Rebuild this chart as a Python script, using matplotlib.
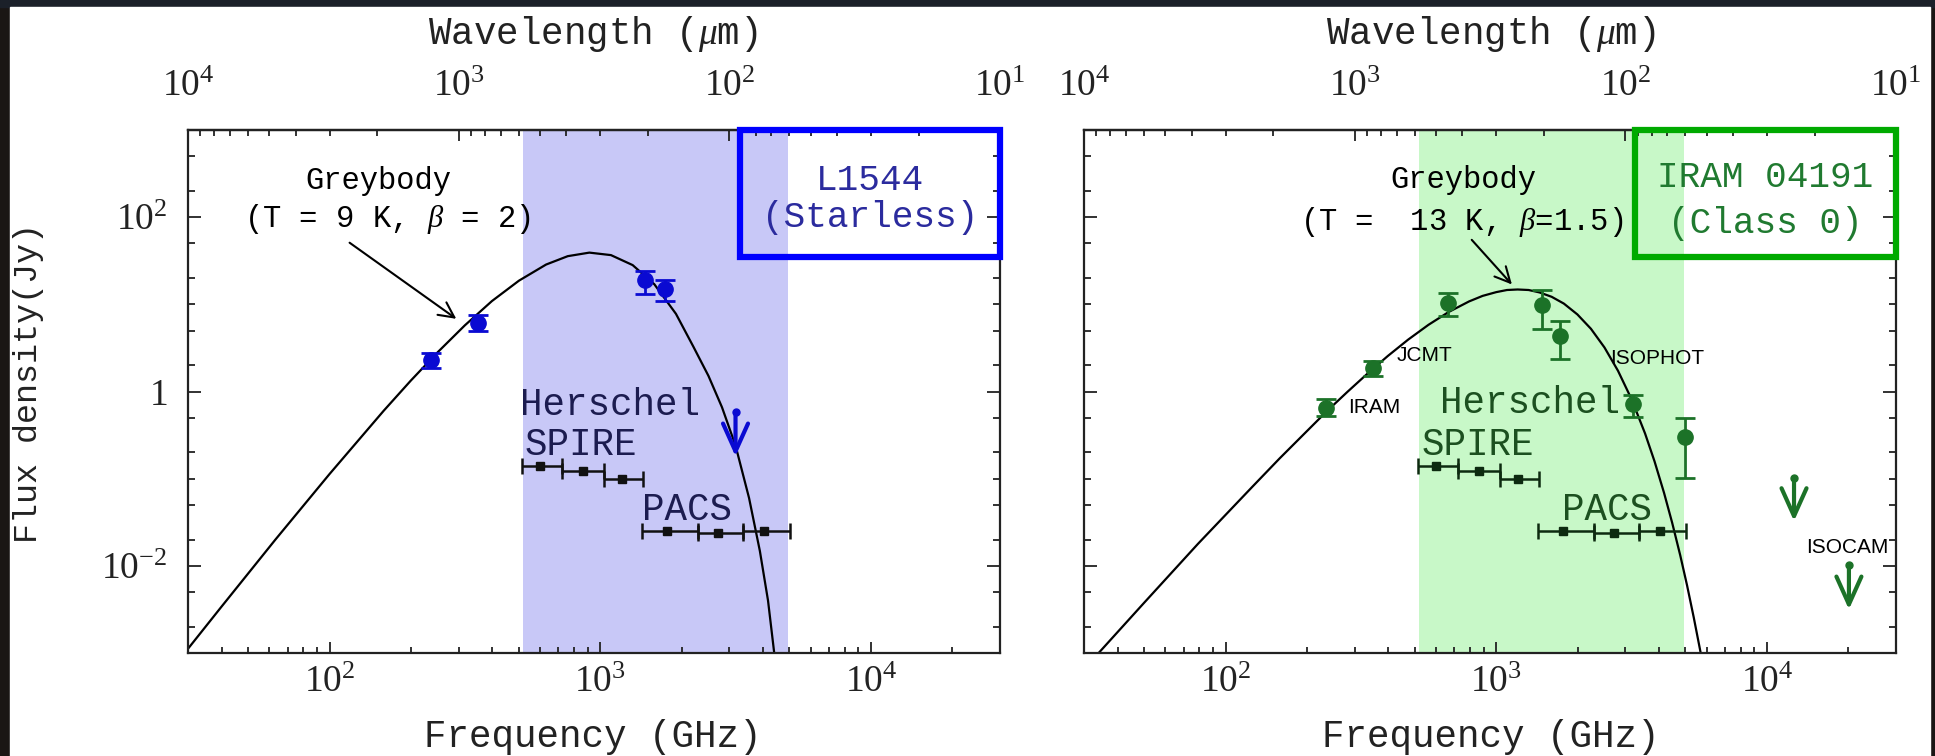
import numpy as np
import matplotlib
matplotlib.use('Agg')
import matplotlib.pyplot as plt
from matplotlib.patches import Rectangle
from matplotlib.ticker import FixedLocator, LogLocator, FuncFormatter, NullFormatter

plt.rcParams['font.family'] = 'Liberation Serif'
plt.rcParams['mathtext.fontset'] = 'custom'
plt.rcParams['mathtext.rm'] = 'Liberation Serif'
plt.rcParams['mathtext.it'] = 'Liberation Serif:italic'
plt.rcParams['mathtext.bf'] = 'Liberation Serif:bold'

# ---- data (frequency in GHz, flux in Jy) ----
# greybody curves
grey_l_nu = [29.8, 39.8, 63.1, 100, 158.5, 199.5, 251.2, 316.2, 398.1, 501.2, 631, 759,
             912, 1096, 1318, 1585, 1905, 2208, 2512, 2818, 3162, 3548, 3890, 4169, 4395]
grey_l_S = [0.00109, 0.00337, 0.0200, 0.113, 0.601, 1.33, 2.83, 5.74, 10.9, 18.7, 28.6, 35.7,
            39.2, 36.7, 28.2, 17.0, 7.78, 3.28, 1.51, 0.66, 0.24, 0.060, 0.0148, 0.0040, 0.0010]

grey_r_nu = [31.6, 50, 79, 126, 158.5, 200, 237, 282, 335, 398, 473, 562, 668, 794, 891, 1000,
             1096, 1200, 1318, 1445, 1603, 1778, 1995, 2239, 2512, 2818, 3162, 3548, 3846,
             4169, 4467, 4786, 5070, 5370, 5754]
grey_r_S = [0.00078, 0.00376, 0.0178, 0.0815, 0.171, 0.352, 0.596, 0.99, 1.61, 2.56, 3.94, 5.82,
            8.18, 10.8, 12.5, 13.8, 14.6, 14.8, 14.6, 13.7, 12.2, 10.2, 7.66, 5.24, 3.20, 1.73,
            0.818, 0.330, 0.158, 0.0689, 0.0313, 0.0132, 0.0060, 0.00255, 0.00085]

# L1544 photometry
l_nu = [238, 354, 1459, 1730]
l_S = [2.27, 6.14, 18.9, 15.1]
l_lo = [1.88, 4.99, 13.3, 10.9]
l_hi = [2.73, 7.63, 24.0, 19.2]
l_ul_nu = [3162]
l_ul_S = [0.58]
l_ul_tip = [0.18]

# IRAM 04191 photometry
r_nu = [236, 351, 666, 1476, 1726, 3199, 4965]
r_S = [0.655, 1.87, 10.4, 9.95, 4.31, 0.71, 0.302]
r_lo = [0.52, 1.50, 7.43, 5.23, 2.33, 0.513, 0.102]
r_hi = [0.81, 2.23, 13.5, 14.7, 6.41, 0.907, 0.50]
r_ul_nu = [12600, 20100]
r_ul_S = [0.103, 0.0102]
r_ul_tip = [0.0326, 0.00316]

# Herschel bands and sensitivities
herschel_band = [519, 4930]
spire_nu = [600, 865, 1206]
spire_lo = [514, 723, 1035]
spire_hi = [723, 1035, 1443]
spire_S = [0.138, 0.121, 0.100]
pacs_nu = [1771, 2735, 4018]
pacs_lo = [1431, 2306, 3357]
pacs_hi = [2306, 3357, 5012]
pacs_S = [0.0248, 0.0241, 0.0248]

# wavelength ticks on the top axis (micron)
lam_major = [1e1, 1e2, 1e3, 1e4]
lam_minor = [m * 10.0 ** k for k in (1, 2, 3) for m in range(2, 10)]

W, H = 1935, 756
fig = plt.figure(figsize=(W / 100, H / 100), dpi=100, facecolor='#1a1614')
fig.patches.append(Rectangle((0, 1 - 7 / H), 1, 7 / H, transform=fig.transFigure,
                             color='#1b2029', zorder=-2))
fig.patches.append(Rectangle((10 / W, 0), 1920 / W, 1 - 7 / H, transform=fig.transFigure,
                             color='white', zorder=-1))


def pow_fmt(v, pos):
    if v <= 0:
        return ''
    e = np.log10(v)
    if abs(e - round(e)) > 1e-6:
        return ''
    e = int(round(e))
    if e == 0:
        return r'$\mathregular{1}$'
    return r'$\mathregular{10^{%d}}$' % e


def nu2lam(nu):
    return 3e5 / np.asarray(nu, dtype=float)


mono = 'Liberation Mono'
tick_col = '#222222'


def panel(x0, ylabels):
    ax = fig.add_axes([x0 / W, 1 - 653 / H, 812 / W, 523 / H])
    ax.set_xscale('log')
    ax.set_yscale('log')
    ax.set_xlim(30, 3e4)
    ax.set_ylim(1e-3, 1e3)
    for s in ax.spines.values():
        s.set_linewidth(1.6)
        s.set_color('#222222')
        s.set_zorder(6)

    ax.yaxis.set_major_locator(FixedLocator([1e-2, 1, 1e2]))
    ax.yaxis.set_minor_locator(LogLocator(base=10, subs=(1.0, 2.0, 5.0), numticks=50))
    ax.yaxis.set_minor_formatter(NullFormatter())
    ax.yaxis.set_major_formatter(FuncFormatter(pow_fmt))
    ax.xaxis.set_major_locator(FixedLocator([1e2, 1e3, 1e4]))
    ax.xaxis.set_minor_locator(LogLocator(base=10, subs=np.arange(2, 10), numticks=50))
    ax.xaxis.set_minor_formatter(NullFormatter())
    ax.xaxis.set_major_formatter(FuncFormatter(pow_fmt))

    ax.tick_params(which='both', direction='in', top=False, right=True,
                   labelsize=27, colors=tick_col, width=1.3)
    ax.tick_params(axis='x', which='major', length=8, pad=9)
    ax.tick_params(axis='x', which='minor', length=4)
    ax.tick_params(axis='y', which='major', length=9.5, pad=15, labelleft=ylabels)
    ax.tick_params(axis='y', which='minor', length=5)

    sec = ax.secondary_xaxis('top', functions=(nu2lam, nu2lam))
    sec.xaxis.set_major_locator(FixedLocator(lam_major))
    sec.xaxis.set_minor_locator(FixedLocator(lam_minor))
    sec.xaxis.set_minor_formatter(NullFormatter())
    sec.xaxis.set_major_formatter(FuncFormatter(pow_fmt))
    sec.tick_params(which='both', direction='in', labelsize=27, colors=tick_col, width=1.3, pad=19)
    sec.tick_params(which='major', length=8)
    sec.tick_params(which='minor', length=4)
    sec.spines['top'].set_linewidth(1.6)
    return ax


def herschel(ax, shade, markcol):
    ax.axvspan(herschel_band[0], herschel_band[1], color=shade, lw=0, zorder=0)
    s_nu = np.array(spire_nu)
    p_nu = np.array(pacs_nu)
    ax.errorbar(spire_nu, spire_S, xerr=[s_nu - np.array(spire_lo), np.array(spire_hi) - s_nu],
                fmt='s', ms=6, color=markcol, capsize=6, elinewidth=1.8, capthick=1.8, zorder=4)
    ax.errorbar(pacs_nu, pacs_S, xerr=[p_nu - np.array(pacs_lo), np.array(pacs_hi) - p_nu],
                fmt='s', ms=6, color=markcol, capsize=6, elinewidth=1.8, capthick=1.8, zorder=4)


def photometry(ax, nu, S, lo, hi, ul_nu, ul_S, ul_tip, col):
    S = np.array(S)
    ax.errorbar(nu, S, yerr=[S - np.array(lo), np.array(hi) - S], fmt='o', ms=11,
                color=col, capsize=7, elinewidth=2, capthick=2, zorder=5)
    ax.plot(ul_nu, ul_S, 'o', ms=5, color=col, zorder=5)
    for n, s, t in zip(ul_nu, ul_S, ul_tip):
        ax.annotate('', xy=(n, t), xytext=(n, s),
                    arrowprops=dict(arrowstyle='->,head_length=1.0,head_width=0.45', lw=3,
                                    color=col, mutation_scale=20, shrinkA=0, shrinkB=0),
                    zorder=5)


# ---------------- left panel: L1544 ----------------
axl = panel(188, True)
herschel(axl, '#c8c8f7', '#111111')
axl.plot(grey_l_nu, grey_l_S, color='black', lw=1.6, zorder=3)
photometry(axl, l_nu, l_S, l_lo, l_hi, l_ul_nu, l_ul_S, l_ul_tip, '#0a0ad2')
axl.text(0.234, 0.902, 'Greybody', transform=axl.transAxes, ha='center', va='center',
         fontsize=22, family=mono)
axl.text(0.245, 0.830, r'(T = 9 K, $\beta$ = 2)', transform=axl.transAxes, ha='center',
         va='center', fontsize=22, family=mono)
axl.annotate('', xy=(294, 6.82), xytext=(0.199, 0.7845), textcoords='axes fraction',
             arrowprops=dict(arrowstyle='->,head_length=0.5,head_width=0.25', lw=1.5,
                             color='black', mutation_scale=22, shrinkA=0, shrinkB=0))
axl.text(0.409, 0.455, 'Herschel', transform=axl.transAxes, ha='left', va='baseline',
         fontsize=27, family=mono, color='#1c1c50')
axl.text(0.415, 0.379, 'SPIRE', transform=axl.transAxes, ha='left', va='baseline',
         fontsize=27, family=mono, color='#1c1c50')
axl.text(0.559, 0.254, 'PACS', transform=axl.transAxes, ha='left', va='baseline',
         fontsize=27, family=mono, color='#1c1c50')
axl.add_patch(Rectangle((0.68, 0.757), 0.32, 0.243, transform=axl.transAxes, fill=False,
                        ec='#0000ff', lw=4.5, clip_on=False, zorder=7))
axl.text(0.84, 0.904, 'L1544', transform=axl.transAxes, ha='center', va='center',
         fontsize=26, family=mono, color='#2b2b9e')
axl.text(0.84, 0.832, '(Starless)', transform=axl.transAxes, ha='center', va='center',
         fontsize=26, family=mono, color='#2b2b9e')

# ---------------- right panel: IRAM 04191 ----------------
axr = panel(1084, False)
herschel(axr, '#c8f8c8', '#0d2a10')
axr.plot(grey_r_nu, grey_r_S, color='black', lw=1.6, zorder=3)
photometry(axr, r_nu, r_S, r_lo, r_hi, r_ul_nu, r_ul_S, r_ul_tip, '#1c7228')
axr.text(0.4667, 0.905, 'Greybody', transform=axr.transAxes, ha='center', va='center',
         fontsize=22, family=mono)
axr.text(0.4655, 0.824, r'(T =  13 K, $\beta$=1.5)', transform=axr.transAxes, ha='center',
         va='center', fontsize=22, family=mono)
axr.annotate('', xy=(1143, 16.9), xytext=(0.4775, 0.790), textcoords='axes fraction',
             arrowprops=dict(arrowstyle='->,head_length=0.5,head_width=0.25', lw=1.5,
                             color='black', mutation_scale=22, shrinkA=0, shrinkB=0))
axr.text(0.4384, 0.459, 'Herschel', transform=axr.transAxes, ha='left', va='baseline',
         fontsize=27, family=mono, color='#1c5020')
axr.text(0.4163, 0.379, 'SPIRE', transform=axr.transAxes, ha='left', va='baseline',
         fontsize=27, family=mono, color='#1c5020')
axr.text(0.5887, 0.254, 'PACS', transform=axr.transAxes, ha='left', va='baseline',
         fontsize=27, family=mono, color='#1c5020')
for txt, x, y in [('IRAM', 0.325, 0.4685), ('JCMT', 0.3855, 0.568),
                  ('ISOPHOT', 0.648, 0.564), ('ISOCAM', 0.889, 0.2008)]:
    axr.text(x, y, txt, transform=axr.transAxes, ha='left', va='center', fontsize=15,
             family='Liberation Sans', color='black', zorder=6)
axr.add_patch(Rectangle((0.6786, 0.757), 0.3214, 0.243, transform=axr.transAxes, fill=False,
                        ec='#00aa00', lw=4.5, clip_on=False, zorder=7))
axr.text(0.8387, 0.910, 'IRAM 04191', transform=axr.transAxes, ha='center', va='center',
         fontsize=26, family=mono, color='#207a30')
axr.text(0.8387, 0.822, '(Class 0)', transform=axr.transAxes, ha='center', va='center',
         fontsize=26, family=mono, color='#207a30')

# axis titles
for xc in (593 / W, 1491 / W):
    fig.text(xc, 1 - 34 / H, r'Wavelength ($\mu$m)', ha='center', va='center',
             fontsize=27, family=mono, color=tick_col)
    fig.text(xc, 1 - 737 / H, 'Frequency (GHz)', ha='center', va='center',
             fontsize=27, family=mono, color=tick_col)
fig.text(29 / W, 1 - 383 / H, 'Flux density(Jy)', rotation=90, ha='center', va='center',
         fontsize=24, family=mono, color=tick_col)

fig.savefig('out.png', dpi=100, facecolor=fig.get_facecolor())
